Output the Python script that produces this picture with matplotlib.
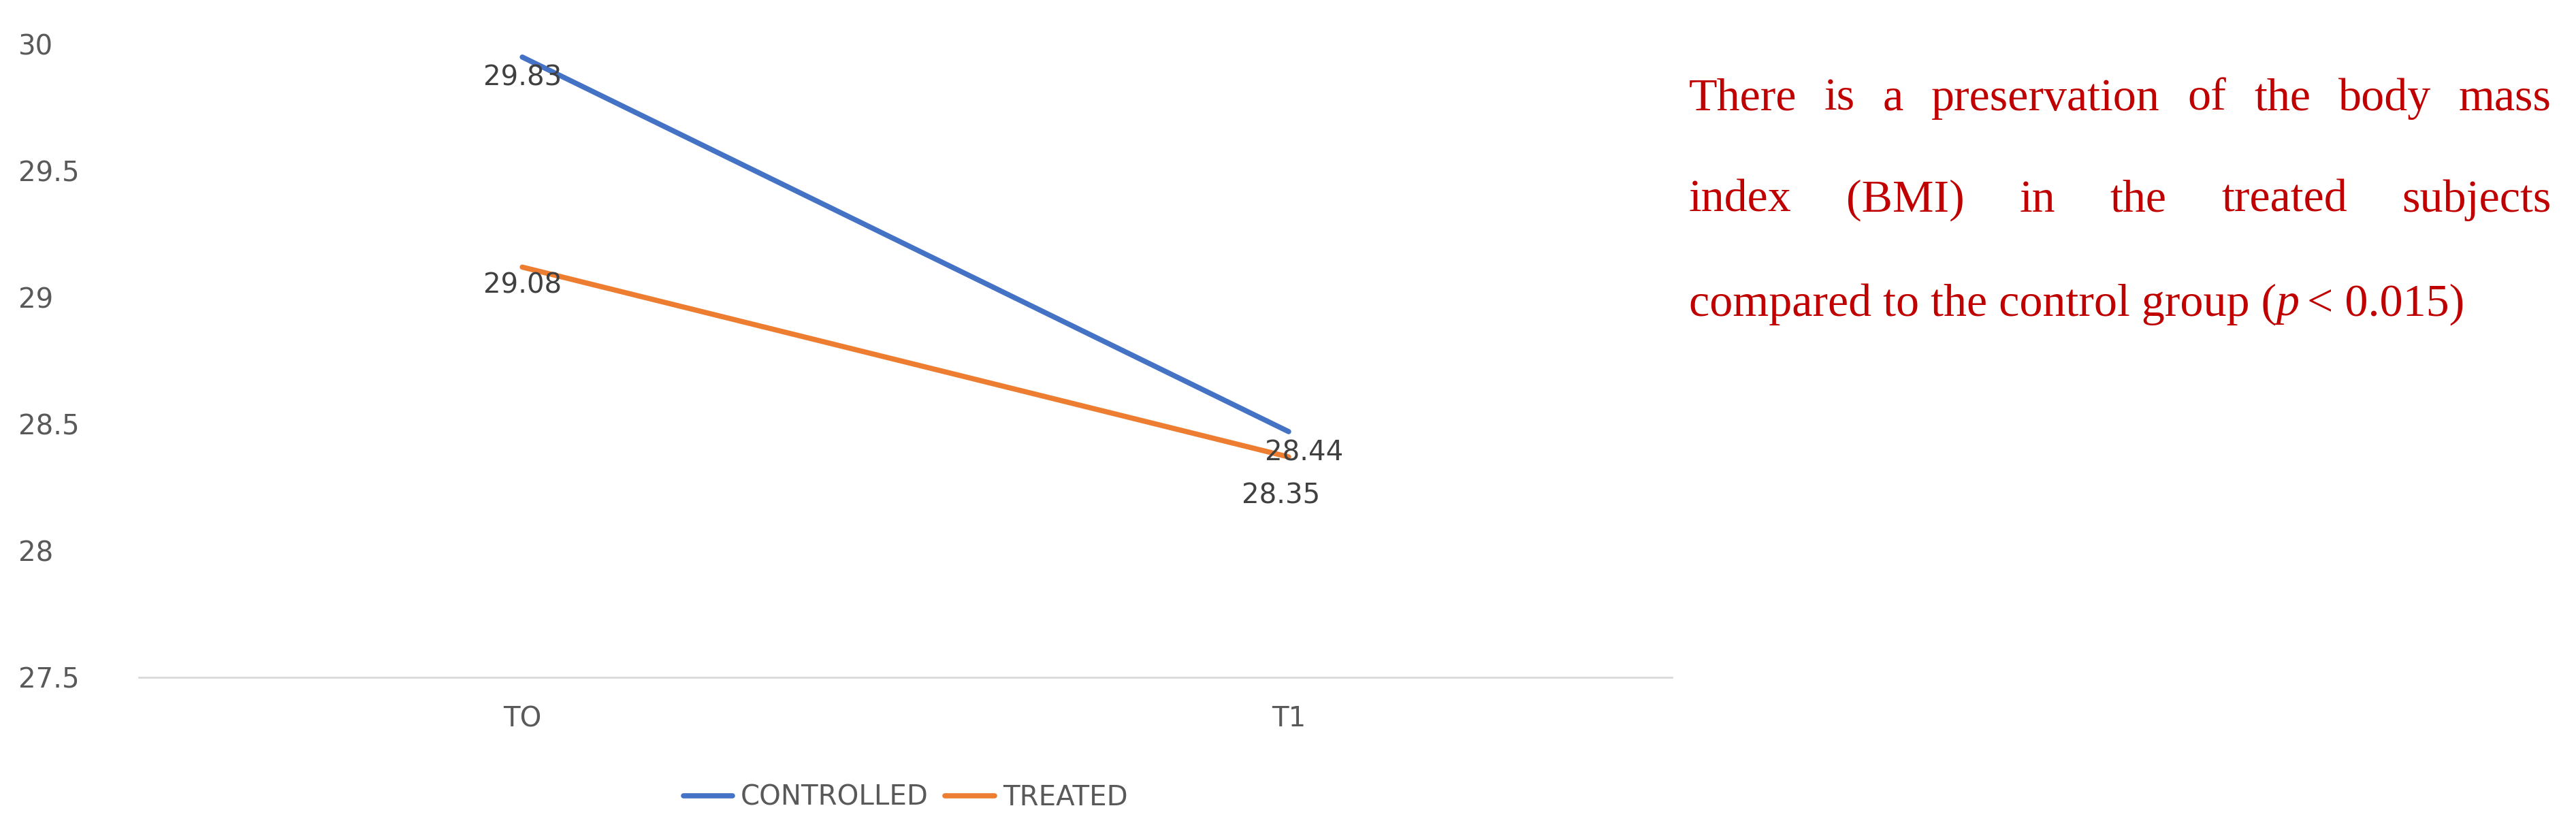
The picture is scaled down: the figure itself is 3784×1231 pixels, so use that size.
import matplotlib
matplotlib.use('Agg')
from matplotlib import pyplot as plt

times = ['TO', 'T1']
controlled = [29.95, 28.47]
treated = [29.12, 28.37]
controlled_labels = ['29.83', '28.44']
treated_labels = ['29.08', '28.35']

fig = plt.figure(figsize=(37.84, 12.31), dpi=100)
ax = fig.add_axes([0.054, 0.192, 0.595, 0.755])
blue = '#4472c4'
orange = '#ed7d31'
ax.plot([0, 1], controlled, color=blue, lw=5.5, label='CONTROLLED', solid_capstyle='round')
ax.plot([0, 1], treated, color=orange, lw=5.5, label='TREATED', solid_capstyle='round')
ax.set_xlim(-0.5, 1.5)
ax.set_ylim(27.5, 30)
ax.set_xticks([0, 1], times)
ax.set_yticks([27.5, 28, 28.5, 29, 29.5, 30], ['27.5', '28', '28.5', '29', '29.5', '30'])
for s in ['top', 'right', 'left']:
    ax.spines[s].set_visible(False)
ax.spines['bottom'].set_color('#d9d9d9')
ax.spines['bottom'].set_linewidth(2)
ax.tick_params(length=0, labelsize=29, colors='#595959', pad=30)
ax.tick_params(axis='y', pad=128)
for lab in ax.get_yticklabels():
    lab.set_horizontalalignment('left')

ax.text(0, controlled[0] - 0.03, controlled_labels[0], ha='center', va='top', fontsize=29, color='#404040')
ax.text(0, treated[0] - 0.02, treated_labels[0], ha='center', va='top', fontsize=29, color='#404040')
ax.text(1.02, controlled[1] - 0.03, controlled_labels[1], ha='center', va='top', fontsize=29, color='#404040')
ax.text(0.99, treated[1] - 0.1, treated_labels[1], ha='center', va='top', fontsize=29, color='#404040')

ax.legend(loc='upper center', bbox_to_anchor=(0.5, -0.13), ncol=2, frameon=False,
          fontsize=29, labelcolor='#595959', handlelength=1.8, columnspacing=0.6, handletextpad=0.3)

# justified note on the right
red = '#c00000'
x0, x1 = 1028 / 1568, 1553 / 1568
lines = [('There is a preservation of the body mass', 0.882),
         ('index (BMI) in the treated subjects', 0.761)]
fig.canvas.draw()
r = fig.canvas.get_renderer()
fw = fig.bbox.width
for line, y in lines:
    words = line.split()
    objs = [fig.text(0, y, w, fontsize=49, color=red, family='Liberation Serif', va='center') for w in words]
    widths = [t.get_window_extent(r).width / fw for t in objs]
    gap = (x1 - x0 - sum(widths)) / (len(words) - 1)
    x = x0
    for t, w in zip(objs, widths):
        t.set_x(x)
        x += w + gap
fig.text(x0, 0.637, 'compared to the control group (', fontsize=49, color=red,
         family='Liberation Serif', va='center')
t = fig.texts[-1]
w = t.get_window_extent(r).width / fw
t2 = fig.text(x0 + w, 0.637, 'p', fontsize=49, color=red, family='Liberation Serif',
              style='italic', va='center')
w2 = t2.get_window_extent(r).width / fw
fig.text(x0 + w + w2 + 0.003, 0.637, '< 0.015)', fontsize=49, color=red,
         family='Liberation Serif', va='center')

fig.savefig('out.png')
